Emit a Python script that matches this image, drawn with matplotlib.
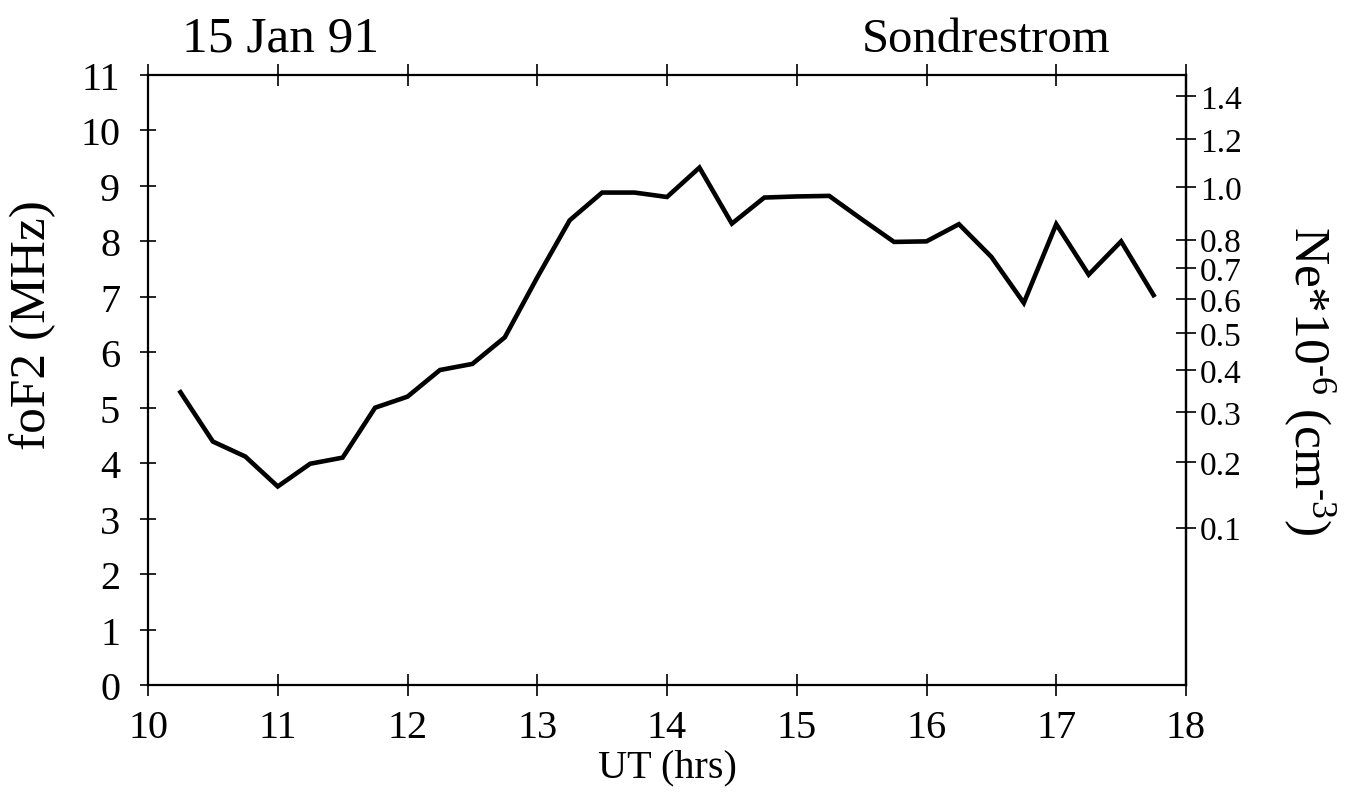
import numpy as np
import matplotlib
matplotlib.use('Agg')
import matplotlib.pyplot as plt

plt.rcParams['font.family'] = ['Liberation Serif', 'DejaVu Serif']
plt.rcParams['mathtext.fontset'] = 'custom'
plt.rcParams['mathtext.rm'] = 'Liberation Serif'
plt.rcParams['mathtext.it'] = 'Liberation Serif:italic'

# foF2 (MHz), every 15 min
ut = [10.25, 10.5, 10.75, 11.0, 11.25, 11.5, 11.75, 12.0, 12.25, 12.5, 12.75,
      13.0, 13.25, 13.5, 13.75, 14.0, 14.25, 14.5, 14.75, 15.0, 15.25, 15.5,
      15.75, 16.0, 16.25, 16.5, 16.75, 17.0, 17.25, 17.5, 17.75]
fof2 = [5.28, 4.39, 4.12, 3.58, 3.99, 4.10, 5.00, 5.20, 5.68, 5.79, 6.27,
        7.35, 8.38, 8.88, 8.88, 8.80, 9.33, 8.32, 8.79, 8.81, 8.82, 8.40,
        7.99, 8.00, 8.31, 7.72, 6.89, 8.31, 7.40, 8.00, 7.03]

x_ticks = [10, 11, 12, 13, 14, 15, 16, 17, 18]
y_ticks = [0, 1, 2, 3, 4, 5, 6, 7, 8, 9, 10, 11]
ne_ticks = [0.1, 0.2, 0.3, 0.4, 0.5, 0.6, 0.7, 0.8, 1.0, 1.2, 1.4]


def f2ne(f):
    # Ne (10^6 cm^-3) = 1.24e4 * f^2
    return 0.0124 * np.asarray(f) ** 2


def ne2f(n):
    return np.sqrt(np.clip(np.asarray(n, dtype=float), 0, None) / 0.0124)


fig = plt.figure(figsize=(13.54, 8.03), dpi=100)
ax = fig.add_axes([148 / 1354, 1 - 686 / 803, 1038 / 1354, 610 / 803])

ax.plot(ut, fof2, color='black', lw=3.3, solid_joinstyle='miter')

ax.set_xlim(10, 18)
ax.set_ylim(0, 11)
ax.set_xticks(x_ticks)
ax.set_yticks(y_ticks)
for s in ax.spines.values():
    s.set_linewidth(1.6)

ax.tick_params(axis='x', which='both', direction='inout', length=16, width=1.2,
               labelsize=29, pad=9, top=True)
ax.tick_params(axis='y', which='both', direction='inout', length=12, width=1.2,
               labelsize=29, pad=14, right=False)

ax.set_xlabel('UT (hrs)', fontsize=29, labelpad=2)
ax.set_ylabel('foF2 (MHz)', fontsize=37)
ax.yaxis.set_label_coords(-0.088, 0.592)

sec = ax.secondary_yaxis('right', functions=(f2ne, ne2f))
sec.set_yticks(ne_ticks)
sec.set_yticklabels(['%.1f' % v for v in ne_ticks])
sec.tick_params(direction='inout', length=14, width=1.2, labelsize=24, pad=3)
sec.spines['right'].set_linewidth(1.6)
sec.set_ylabel(r'Ne*10$^{\text{-}6}$ (cm$^{\text{-}3}$)', fontsize=37,
               rotation=270, labelpad=68)

ax.text(0.033, 1.04, '15 Jan 91', transform=ax.transAxes, fontsize=37,
        ha='left', va='baseline')
ax.text(0.927, 1.04, 'Sondrestrom', transform=ax.transAxes, fontsize=35,
        ha='right', va='baseline')

fig.savefig('out.png', dpi=100)
